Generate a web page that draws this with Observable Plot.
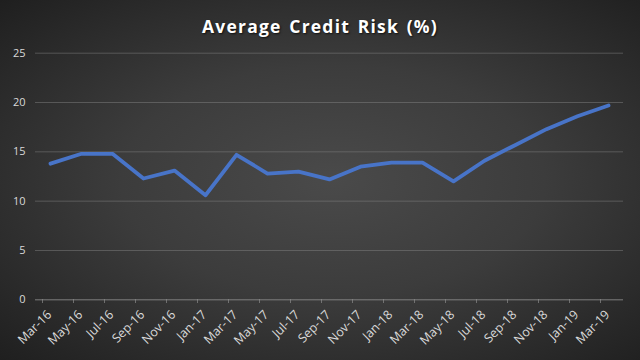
<!DOCTYPE html>
<html><head><meta charset="utf-8">
<script src="https://cdn.jsdelivr.net/npm/d3@7"></script>
<script src="https://cdn.jsdelivr.net/npm/@observablehq/plot@0.6"></script>
<style>
html,body{margin:0;padding:0;background:#222;}
#chart{width:640px;height:360px;background:radial-gradient(ellipse farthest-corner at 52% 50%, #4a4a4a 0%, #3c3c3c 45%, #1f1f1f 100%);position:relative;overflow:hidden;font-family:"Open Sans",sans-serif;}
#title{height:45px;line-height:52px;text-align:center;color:#fff;font-weight:bold;font-size:17.5px;letter-spacing:1.2px;word-spacing:2px;text-shadow:1px 1px 2px rgba(0,0,0,.7);white-space:nowrap;}
svg{display:block;background:transparent !important;}
</style></head><body>
<div id="chart"><div id="title">Average Credit Risk (%)</div></div>
<script>
const months = ["Mar-16","May-16","Jul-16","Sep-16","Nov-16","Jan-17","Mar-17","May-17","Jul-17","Sep-17","Nov-17","Jan-18","Mar-18","May-18","Jul-18","Sep-18","Nov-18","Jan-19","Mar-19"];
const risk = [13.8,14.8,14.8,12.3,13.1,10.6,14.7,12.8,13.0,12.2,13.5,13.9,13.9,12.0,14.1,15.7,17.3,18.6,19.7];
const yTicks = [0,5,10,15,20,25];

const data = months.map((m, i) => ({month: m, value: risk[i]}));

const plot = Plot.plot({
  width: 640,
  height: 315,
  marginLeft: 35,
  marginRight: 17,
  marginTop: 8,
  marginBottom: 61,
  style: {background: "transparent", color: "#d9d9d9", fontFamily: "'Open Sans', sans-serif", fontSize: "11px", overflow: "visible"},
  x: {type: "point", domain: months, range: [43.3, 615], padding: 0, label: null},
  y: {domain: [0, 25], range: [254.3, 7.7], label: null},
  marks: [
    Plot.gridY(yTicks, {stroke: "#8a8a8a", strokeOpacity: 0.45, strokeWidth: 1}),
    Plot.ruleY([0], {stroke: "#8a8a8a", strokeOpacity: 0.6}),
    Plot.axisY(yTicks, {tickSize: 0, tickPadding: 10, fontSize: 11, fill: "#d9d9d9", label: null}),
    Plot.axisX(months, {tickSize: 4, text: null, dx: -8, stroke: "#8a8a8a", strokeOpacity: 0.7, label: null}),
    Plot.axisX(months, {tickSize: 0, tickPadding: 13, tickRotate: -45, fontSize: 12.5, fill: "#d9d9d9", dx: -1, label: null}),
    Plot.line(data, {x: "month", y: "value", stroke: "#4874c8", strokeWidth: 3.8, strokeLinejoin: "round", strokeLinecap: "round", style: "filter: drop-shadow(1px 2px 2px rgba(0,0,0,0.6))"})
  ]
});
document.getElementById("chart").appendChild(plot);
</script>
</body></html>
